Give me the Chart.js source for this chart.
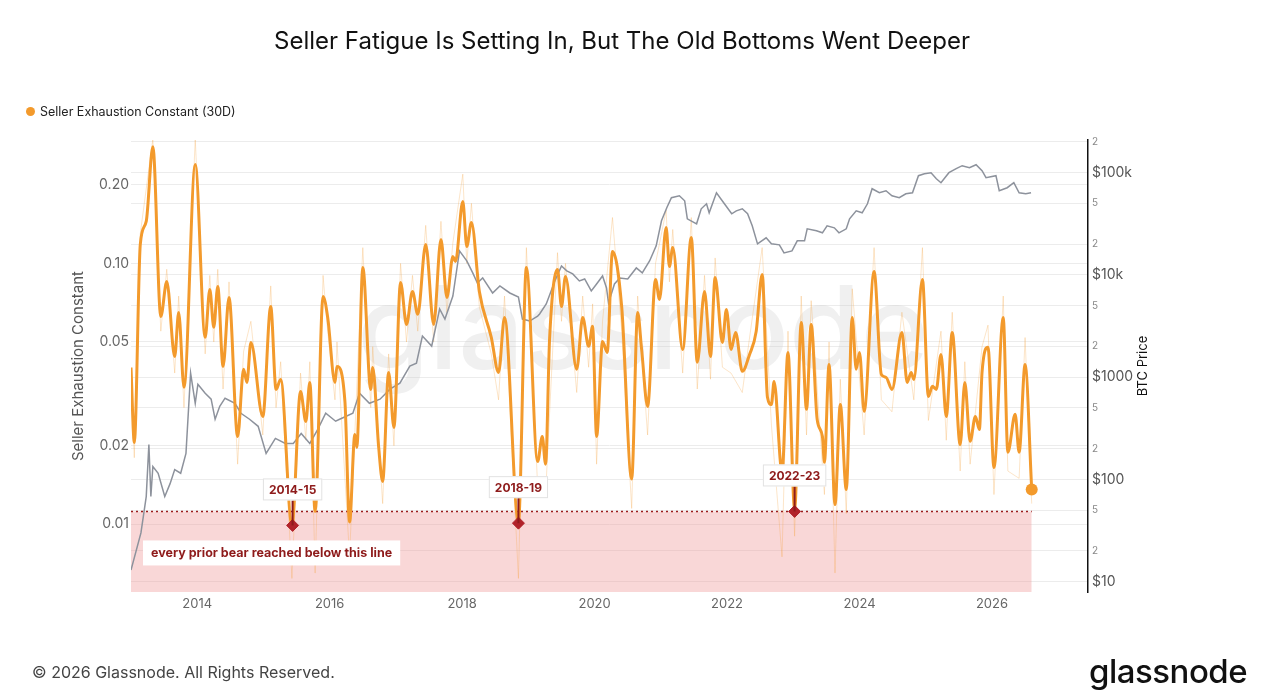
<!DOCTYPE html>
<html>
<head>
<meta charset="utf-8">
<script src="https://cdn.jsdelivr.net/npm/chart.js@4.4.1/dist/chart.umd.min.js"></script>
<style>
  body { margin: 0; background: #fff; font-family: Inter, "Noto Sans", sans-serif; }
  #wrap { position: relative; width: 1280px; height: 700px; overflow: hidden; }
  #chart { position: absolute; left: 0; top: 0; }
  .title { position: absolute; top: 26px; left: -18px; width: 1280px; text-align: center; font-size: 24px; color: #111; }
  .legend { position: absolute; top: 104px; left: 26px; font-size: 12.5px; color: #222; display: flex; align-items: center; }
  .legend span.dot { width: 9px; height: 9px; border-radius: 50%; background: #f39a2c; margin-right: 5px; display: inline-block; }
  .footer { position: absolute; top: 662px; left: 32px; font-size: 16px; color: #444; }
  .logo { position: absolute; top: 651px; left: 1089px; font-size: 33px; font-weight: 500; color: #111; letter-spacing: -0.5px; }
</style>
</head>
<body>
<div id="wrap">
  <canvas id="chart" width="1280" height="700"></canvas>
  <div class="title">Seller Fatigue Is Setting In, But The Old Bottoms Went Deeper</div>
  <div class="legend"><span class="dot"></span>Seller Exhaustion Constant (30D)</div>
  <div class="footer">© 2026 Glassnode. All Rights Reserved.</div>
  <div class="logo">glassnode</div>
</div>
<script>
// smoothed seller exhaustion constant (30D), turning points
const secYears = [2013.00,2013.05,2013.14,2013.23,2013.33,2013.45,2013.54,2013.66,2013.72,2013.80,
  2013.97,2014.12,2014.19,2014.25,2014.31,2014.39,2014.48,2014.61,2014.70,2014.75,
  2014.81,2014.99,2015.11,2015.19,2015.26,2015.43,2015.56,2015.64,2015.70,2015.78,
  2015.90,2015.97,2016.08,2016.11,2016.23,2016.30,2016.38,2016.41,2016.50,2016.62,
  2016.65,2016.74,2016.80,2016.89,2016.97,2017.07,2017.16,2017.25,2017.33,2017.45,
  2017.57,2017.68,2017.77,2017.86,2017.90,2018.01,2018.07,2018.14,2018.26,2018.44,
  2018.55,2018.64,2018.85,2018.97,2019.14,2019.21,2019.26,2019.32,2019.44,2019.50,
  2019.56,2019.73,2019.82,2019.91,2019.97,2020.03,2020.12,2020.19,2020.27,2020.41,
  2020.56,2020.65,2020.71,2020.80,2020.92,2020.98,2021.08,2021.13,2021.18,2021.33,
  2021.46,2021.55,2021.66,2021.75,2021.82,2021.93,2021.99,2022.06,2022.13,2022.23,
  2022.34,2022.44,2022.53,2022.61,2022.67,2022.71,2022.83,2022.92,2023.02,2023.12,
  2023.20,2023.27,2023.36,2023.44,2023.47,2023.54,2023.63,2023.71,2023.80,2023.89,
  2023.95,2024.00,2024.07,2024.22,2024.33,2024.40,2024.49,2024.64,2024.72,2024.78,
  2024.82,2024.95,2025.04,2025.10,2025.16,2025.23,2025.31,2025.40,2025.52,2025.59,
  2025.67,2025.75,2025.81,2025.85,2025.94,2026.03,2026.17,2026.24,2026.35,2026.41,
  2026.50,2026.60];
const secValues = [0.0399,0.0206,0.1182,0.1449,0.2805,0.0626,0.0853,0.0440,0.0649,0.0335,
  0.2396,0.0521,0.0795,0.0569,0.0816,0.0403,0.0741,0.0217,0.0393,0.0350,
  0.0498,0.0259,0.0684,0.0329,0.0359,0.0099,0.0323,0.0248,0.0350,0.0112,
  0.0747,0.0621,0.0350,0.0403,0.0296,0.0102,0.0221,0.0197,0.0965,0.0329,
  0.0399,0.0197,0.0146,0.0382,0.0235,0.0846,0.0584,0.0781,0.0638,0.1182,
  0.0584,0.1236,0.0741,0.1064,0.1018,0.1728,0.1162,0.1436,0.0781,0.0521,
  0.0382,0.0621,0.0102,0.0965,0.0174,0.0217,0.0170,0.0511,0.0948,0.0684,
  0.0892,0.0393,0.0621,0.0481,0.0574,0.0217,0.0502,0.0456,0.1112,0.0678,
  0.0149,0.0649,0.0468,0.0283,0.0868,0.0728,0.1374,0.0974,0.1152,0.0468,
  0.1258,0.0418,0.0781,0.0440,0.0884,0.0498,0.0666,0.0468,0.0544,0.0386,
  0.0448,0.0549,0.0908,0.0307,0.0288,0.0353,0.0158,0.0456,0.0114,0.0594,
  0.0276,0.0584,0.0253,0.0217,0.0173,0.0410,0.0119,0.0288,0.0136,0.0621,
  0.0393,0.0456,0.0271,0.0932,0.0375,0.0366,0.0329,0.0544,0.0350,0.0382,
  0.0359,0.0868,0.0309,0.0338,0.0329,0.0448,0.0259,0.0544,0.0202,0.0350,
  0.0208,0.0259,0.0231,0.0382,0.0477,0.0165,0.0621,0.0189,0.0264,0.0189,
  0.0410,0.0136];

// faint daily line behind it (spikes)
const rawYears = [2013.00,2013.05,2013.14,2013.33,2013.45,2013.54,2013.66,2013.72,2013.80,2013.97,
  2014.12,2014.19,2014.25,2014.31,2014.39,2014.48,2014.61,2014.70,2014.81,2014.99,
  2015.11,2015.19,2015.26,2015.43,2015.56,2015.64,2015.70,2015.78,2015.90,2015.97,
  2016.08,2016.11,2016.30,2016.50,2016.62,2016.65,2016.80,2016.89,2016.97,
  2017.07,2017.16,2017.25,2017.33,2017.45,2017.57,2017.68,2017.77,2017.86,
  2018.01,2018.07,2018.14,2018.26,2018.44,2018.55,2018.64,2018.85,2018.97,
  2019.14,2019.26,2019.44,2019.50,2019.56,2019.73,2019.82,2019.91,2019.97,
  2020.03,2020.12,2020.27,2020.41,2020.56,2020.65,2020.80,2020.92,
  2021.08,2021.13,2021.18,2021.33,2021.46,2021.55,2021.66,2021.75,2021.82,2021.93,
  2022.06,2022.23,2022.34,2022.53,2022.67,2022.83,2022.92,
  2023.02,2023.12,2023.20,2023.27,2023.47,2023.54,2023.63,2023.71,2023.80,2023.89,
  2024.07,2024.22,2024.33,2024.49,2024.64,2024.82,2024.95,
  2025.04,2025.23,2025.31,2025.40,2025.52,2025.59,2025.67,2025.85,2025.94,
  2026.03,2026.17,2026.24,2026.41,2026.50,2026.60];
const rawValues = [0.035,0.018,0.13,0.30,0.055,0.095,0.038,0.075,0.028,0.30,
  0.045,0.09,0.05,0.095,0.033,0.085,0.017,0.046,0.06,0.022,
  0.082,0.028,0.042,0.0062,0.038,0.021,0.042,0.0065,0.09,0.055,
  0.03,0.05,0.0075,0.115,0.028,0.048,0.012,0.045,0.02,
  0.1,0.05,0.09,0.055,0.14,0.05,0.145,0.065,0.12,
  0.22,0.1,0.17,0.068,0.045,0.03,0.075,0.0062,0.115,
  0.014,0.013,0.11,0.06,0.1,0.032,0.075,0.04,0.07,
  0.017,0.06,0.15,0.055,0.0115,0.075,0.022,0.1,
  0.16,0.085,0.135,0.038,0.15,0.033,0.09,0.036,0.105,0.04,
  0.038,0.032,0.052,0.115,0.024,0.0075,0.055,
  0.009,0.075,0.022,0.072,0.013,0.05,0.0065,0.036,0.011,0.08,
  0.022,0.115,0.03,0.027,0.065,0.03,0.115,
  0.025,0.055,0.021,0.065,0.016,0.042,0.017,0.048,0.058,
  0.013,0.075,0.016,0.015,0.052,0.012];

// BTC price (right axis)
const btcYears = [2013.00,2013.15,2013.23,2013.27,2013.30,2013.33,2013.41,2013.51,2013.59,2013.66,2013.75,2013.83,2013.90,2013.97,
  2014.01,2014.12,2014.21,2014.27,2014.34,2014.42,2014.57,2014.66,2014.79,2014.92,
  2015.04,2015.18,2015.33,2015.45,2015.57,2015.70,2015.82,2015.94,
  2016.09,2016.15,2016.35,2016.45,2016.60,2016.76,2016.91,
  2017.06,2017.21,2017.31,2017.40,2017.54,2017.66,2017.74,2017.86,2017.96,
  2018.07,2018.16,2018.23,2018.31,2018.46,2018.57,2018.72,2018.85,2018.91,
  2019.02,2019.14,2019.17,2019.27,2019.40,2019.50,2019.58,2019.67,2019.77,2019.85,2019.95,
  2020.03,2020.12,2020.18,2020.21,2020.30,2020.38,2020.50,2020.63,2020.72,2020.83,2020.93,
  2021.01,2021.09,2021.16,2021.28,2021.36,2021.40,2021.54,2021.61,2021.69,2021.73,2021.84,2021.96,
  2022.07,2022.14,2022.23,2022.31,2022.38,2022.46,2022.59,2022.67,2022.79,2022.86,2022.98,
  2023.06,2023.17,2023.21,2023.35,2023.44,2023.51,2023.62,2023.69,2023.80,2023.85,2023.95,
  2024.04,2024.12,2024.19,2024.30,2024.40,2024.49,2024.60,2024.70,2024.80,2024.89,2024.98,
  2025.08,2025.16,2025.23,2025.35,2025.46,2025.55,2025.66,2025.76,2025.85,2025.91,
  2026.06,2026.11,2026.23,2026.33,2026.41,2026.51,2026.59];
const btcValues = [13,30,68,220,68,134,115,68,91,125,115,180,1094,556,
  854,697,609,388,520,623,556,444,388,331,
  180,252,225,225,282,225,309,444,
  371,388,444,697,556,609,763,
  873,1282,1372,2524,2013,4644,3705,6223,17190,
  13710,10460,8352,9350,6663,7800,6663,6085,3705,
  3540,3963,4147,5195,8730,12250,10950,10230,8730,9140,6970,
  8160,9775,7460,5315,8160,9350,9140,11710,10460,13710,19250,
  33830,45360,56870,59550,53100,35400,31620,44360,49660,40540,63650,49660,
  39640,42380,44360,39640,30220,20140,23060,20140,19700,16440,17190,
  21550,21550,28250,27000,25820,30220,28900,25820,28250,35400,42380,
  40540,49660,69700,63650,66600,59550,56870,62250,63650,93500,97800,
  100000,87300,79800,100000,109400,117100,111900,119700,104600,89300,
  93500,66600,71300,79800,63650,62250,63650];

// threshold and prior bear-market lows
const threshold = 0.0112;
const bearLabels = ['2014-15', '2018-19', '2022-23'];
const bearYears = [2015.44, 2018.85, 2023.02];
const bearValues = [0.0099, 0.0101, 0.0112];
const noteText = 'every prior bear reached below this line';

// axis ticks
const xTickValues = [2014, 2016, 2018, 2020, 2022, 2024, 2026];
const leftTickValues = [0.01, 0.02, 0.05, 0.1, 0.2];
const leftTickLabels = ['0.01', '0.02', '0.05', '0.10', '0.20'];
const rightTickValues = [10, 20, 50, 100, 200, 500, 1000, 2000, 5000, 10000, 20000, 50000, 100000, 200000];
const rightTickLabels = ['$10', '2', '5', '$100', '2', '5', '$1000', '2', '5', '$10k', '2', '5', '$100k', '2'];

function zip(xs, ys) {
    const n = Math.min(xs.length, ys.length);
    const out = [];
    for (let i = 0; i < n; i++) out.push({ x: xs[i], y: ys[i] });
    return out;
}

const secPoints = zip(secYears, secValues);
const lastIdx = secPoints.length - 1;
const FONT = 'Inter, "Noto Sans", sans-serif';

const overlay = {
    id: 'overlay',
    beforeDatasetsDraw(chart) {
        const c = chart.ctx;
        const a = chart.chartArea;
        c.save();
        c.font = '500 116px ' + FONT;
        c.fillStyle = 'rgba(200,200,200,0.28)';
        c.textAlign = 'center';
        c.textBaseline = 'middle';
        c.fillText('glassnode', a.left + (a.right - a.left) * 0.535, a.top + (a.bottom - a.top) * 0.43);
        c.restore();
    },
    afterDatasetsDraw(chart) {
        const c = chart.ctx;
        const xs = chart.scales.x, ys = chart.scales.y;
        const a = chart.chartArea;
        c.save();
        // bear labels
        c.font = 'bold 12px ' + FONT;
        c.textAlign = 'center';
        c.textBaseline = 'middle';
        bearLabels.forEach((lab, i) => {
            const px = xs.getPixelForValue(bearYears[i]);
            const py = ys.getPixelForValue(bearValues[i]);
            const ty = py - 36;
            c.strokeStyle = '#8e1b1b';
            c.lineWidth = 2;
            c.beginPath();
            c.moveTo(px, ty + 11);
            c.lineTo(px, py);
            c.stroke();
            const w = c.measureText(lab).width + 12;
            c.fillStyle = '#fff';
            c.fillRect(px - w / 2, ty - 11, w, 22);
            c.strokeStyle = '#e2e2e2';
            c.lineWidth = 1;
            c.strokeRect(px - w / 2 + 0.5, ty - 10.5, w - 1, 21);
            c.fillStyle = '#8e1b1b';
            c.fillText(lab, px, ty + 1);
        });
        // note under the line
        const ny = ys.getPixelForValue(threshold) + 29;
        c.font = 'bold 12.5px ' + FONT;
        const nw = c.measureText(noteText).width + 16;
        c.fillStyle = '#fff';
        c.fillRect(a.left + 12, ny, nw, 25);
        c.fillStyle = '#8e1b1b';
        c.textAlign = 'left';
        c.fillText(noteText, a.left + 20, ny + 13);
        c.restore();
    },
    afterDraw(chart) {
        const c = chart.ctx;
        const a = chart.chartArea;
        const cy = (a.top + a.bottom) / 2;
        c.save();
        c.textAlign = 'center';
        c.textBaseline = 'middle';
        c.translate(78, cy);
        c.rotate(-Math.PI / 2);
        c.font = '15px ' + FONT;
        c.fillStyle = '#555';
        c.fillText('Seller Exhaustion Constant', 0, 0);
        c.restore();
        c.save();
        c.textAlign = 'center';
        c.textBaseline = 'middle';
        c.translate(a.right + 55, cy);
        c.rotate(-Math.PI / 2);
        c.font = '13px ' + FONT;
        c.fillStyle = '#111';
        c.fillText('BTC Price', 0, 0);
        c.restore();
    }
};

const config = {
    type: 'line',
    data: {
        datasets: [
            {
                label: 'threshold',
                data: [{ x: secYears[0], y: threshold }, { x: secYears[lastIdx], y: threshold }],
                yAxisID: 'y',
                borderColor: '#9b1c1c',
                borderWidth: 1.5,
                borderDash: [2, 3],
                backgroundColor: 'rgba(240,150,150,0.38)',
                fill: 'start',
                pointRadius: 0,
                order: 10
            },
            {
                label: 'raw',
                data: zip(rawYears, rawValues),
                yAxisID: 'y',
                borderColor: 'rgba(243,160,60,0.28)',
                borderWidth: 1,
                pointRadius: 0,
                tension: 0,
                order: 6
            },
            {
                label: 'BTC Price',
                data: zip(btcYears, btcValues),
                yAxisID: 'y2',
                borderColor: '#8d929c',
                borderWidth: 1.5,
                pointRadius: 0,
                tension: 0,
                order: 5
            },
            {
                label: 'Seller Exhaustion Constant (30D)',
                data: secPoints,
                yAxisID: 'y',
                borderColor: '#f39a2c',
                backgroundColor: '#f39a2c',
                borderWidth: 3,
                cubicInterpolationMode: 'monotone',
                pointRadius: (ctx) => ctx.dataIndex === lastIdx ? 6 : 0,
                pointBorderWidth: 0,
                order: 2
            },
            {
                label: 'bears',
                data: zip(bearYears, bearValues),
                yAxisID: 'y',
                showLine: false,
                pointStyle: 'rectRot',
                pointRadius: 6,
                backgroundColor: '#b1222a',
                borderColor: '#b1222a',
                order: 1
            }
        ]
    },
    options: {
        responsive: false,
        animation: false,
        events: [],
        layout: { padding: { left: 0, right: 112, top: 140, bottom: 70 } },
        plugins: {
            legend: { display: false },
            tooltip: { enabled: false }
        },
        scales: {
            x: {
                type: 'linear',
                min: 2013.0,
                max: 2027.45,
                grid: { display: false, drawTicks: false },
                border: { display: false },
                ticks: {
                    padding: 4,
                    color: '#666',
                    font: { family: FONT, size: 13 },
                    callback: (v) => String(v)
                },
                afterBuildTicks: (s) => { s.ticks = xTickValues.map(v => ({ value: v })); },
                afterFit: (s) => { s.height = 38; }
            },
            y: {
                type: 'logarithmic',
                position: 'left',
                min: 0.0055,
                max: 0.2974,
                border: { display: false },
                grid: { color: '#ececec', drawTicks: false },
                ticks: {
                    padding: 2,
                    color: '#666',
                    font: { family: FONT, size: 14 },
                    callback: (v, i) => leftTickLabels[i]
                },
                afterBuildTicks: (s) => { s.ticks = leftTickValues.map(v => ({ value: v })); },
                afterFit: (s) => { s.width = 131; }
            },
            y2: {
                type: 'logarithmic',
                position: 'right',
                min: 7.93,
                max: 208800,
                border: { display: true, color: '#111', width: 1.5 },
                grid: { color: '#ececec', drawTicks: false },
                ticks: {
                    padding: 4,
                    color: (ctx) => rightTickLabels[ctx.index].length > 1 ? '#555' : '#888',
                    font: (ctx) => ({ family: FONT, size: rightTickLabels[ctx.index].length > 1 ? 14 : 10 }),
                    callback: (v, i) => rightTickLabels[i]
                },
                afterBuildTicks: (s) => { s.ticks = rightTickValues.map(v => ({ value: v })); },
                afterFit: (s) => { s.width = 80; }
            }
        }
    },
    plugins: [overlay]
};

const myChart = new Chart(document.getElementById('chart'), config);
</script>
</body>
</html>
